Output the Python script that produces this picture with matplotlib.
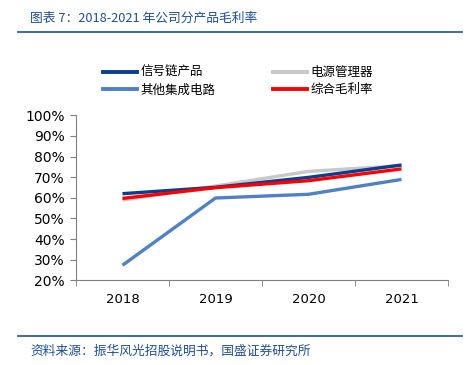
import matplotlib
matplotlib.use("Agg")
import matplotlib.pyplot as plt
from matplotlib.lines import Line2D
from matplotlib.ticker import FixedLocator, FuncFormatter

plt.rcParams['font.family'] = ['Noto Sans CJK SC', 'DejaVu Sans']

years = ['2018', '2019', '2020', '2021']
signal_chain = [62.0, 65.1, 69.9, 75.9]
power_mgmt = [58.9, 65.7, 72.8, 75.6]
other_ic = [27.3, 59.9, 61.7, 68.9]
overall = [59.7, 64.9, 68.3, 74.0]

series_names = ['信号链产品', '电源管理器', '其他集成电路', '综合毛利率']
colors = ['#0B3D91', '#C8C8C8', '#4F81C7', '#FF0000']

W, H = 476, 365
fig = plt.figure(figsize=(W / 100, H / 100), dpi=100)

def fx(px):
    return px / W

def fy(py):
    return 1 - py / H

ax = fig.add_axes([fx(76), fy(280.3), fx(448) - fx(76), fy(115.3) - fy(280.3)])
x = list(range(len(years)))
data = [signal_chain, power_mgmt, other_ic, overall]
zorders = [3, 2, 3, 4]
for i in [1, 2, 0, 3]:
    ax.plot(x, data[i], color=colors[i], lw=2.4, solid_capstyle='butt', zorder=zorders[i])

ax.set_xlim(-0.5, 3.5)
ax.set_ylim(20, 100)
ax.set_yticks(range(20, 101, 10))
ax.yaxis.set_major_formatter(FuncFormatter(lambda v, p: f'{int(v)}%'))
ax.set_xticks(x)
ax.set_xticklabels(years)
ax.xaxis.set_minor_locator(FixedLocator([-0.5, 0.5, 1.5, 2.5, 3.5]))
ax.tick_params(axis='x', which='major', length=0, pad=9, labelsize=9.5)
ax.tick_params(axis='x', which='minor', length=4, direction='out', color='#808080')
ax.tick_params(axis='y', length=4, direction='out', color='#808080', labelsize=10, pad=4)
for lab in ax.get_xticklabels() + ax.get_yticklabels():
    lab.set_family(['DejaVu Sans'])
for s in ['top', 'right']:
    ax.spines[s].set_visible(False)
for s in ['left', 'bottom']:
    ax.spines[s].set_color('#808080')
    ax.spines[s].set_linewidth(0.8)

# legend (row order: 信号链 / 电源, 其他 / 综合)
leg_order = [0, 2, 1, 3]
handles = [Line2D([0], [0], color=colors[i], lw=2.8) for i in leg_order]
labels = [series_names[i] for i in leg_order]
fig.legend(handles, labels, loc='upper left', bbox_to_anchor=(fx(103), fy(66)),
           ncol=2, frameon=False, fontsize=9, handlelength=2.7, handletextpad=0.3,
           columnspacing=4.6, labelspacing=0.35, borderaxespad=0, borderpad=0)

# title and rules
title_color = '#1F4E9A'
fig.text(fx(30), fy(18), '图表 7：2018-2021 年公司分产品毛利率', color=title_color,
         fontsize=9.2, style='italic', va='center', ha='left')
fig.add_artist(Line2D([fx(18), fx(462)], [fy(32.3), fy(32.3)], color='#2E5FA8', lw=1.3))
fig.add_artist(Line2D([fx(18), fx(462)], [fy(335.5), fy(335.5)], color='#2E5FA8', lw=1.3))
fig.text(fx(30), fy(351), '资料来源：振华风光招股说明书，国盛证券研究所', color=title_color,
         fontsize=9.2, style='italic', va='center', ha='left')

fig.savefig('out.png', dpi=100)
